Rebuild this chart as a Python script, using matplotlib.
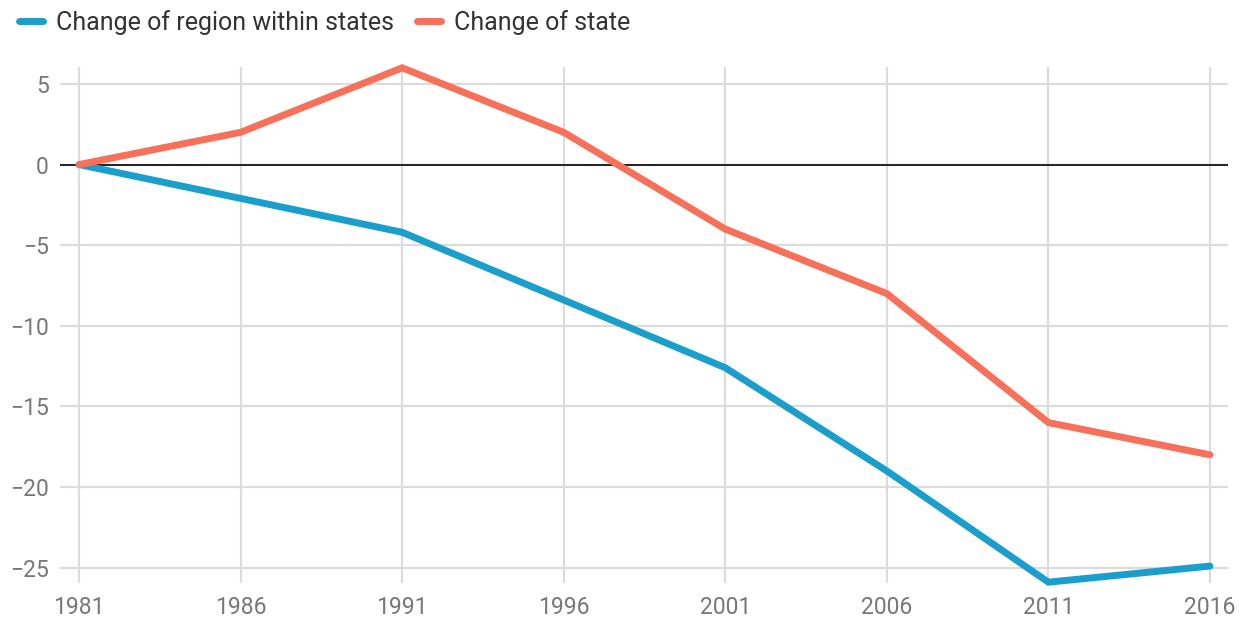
import matplotlib
matplotlib.use("Agg")
import matplotlib.pyplot as plt
from matplotlib.lines import Line2D

years = [1981, 1986, 1991, 1996, 2001, 2006, 2011, 2016]
region_change = [0, -2.1, -4.2, -8.4, -12.6, -19.0, -25.9, -24.9]
state_change = [0, 2, 6, 2, -4, -8, -16, -18]
y_ticks = [5, 0, -5, -10, -15, -20, -25]
series_names = ["Change of region within states", "Change of state"]
colors = ["#1a9fcc", "#f7705a"]

plt.rcParams['font.family'] = ['Roboto', 'DejaVu Sans']

W, H = 1248, 620
fig = plt.figure(figsize=(W / 100, H / 100), dpi=100)
left, right, top, bottom = 60, 1228, 67, 583
ax = fig.add_axes([left / W, 1 - bottom / H, (right - left) / W, (bottom - top) / H])

ax.set_xlim(1981 - 0.59, 2016 + 0.56)
ax.set_ylim(-25.95, 6.05)

for s in ax.spines.values():
    s.set_visible(False)

ax.set_xticks(years)
ax.set_xticklabels([str(y) for y in years])
ax.set_yticks(y_ticks)
ax.set_yticklabels([("−" + str(abs(v))) if v < 0 else str(v) for v in y_ticks])
ax.grid(True, color="#dcdcdc", linewidth=1.6)
ax.set_axisbelow(True)
ax.tick_params(length=0, labelsize=16.5, colors="#777777", pad=8)
ax.tick_params(axis='x', pad=9)

ax.axhline(0, color="#222222", linewidth=1.4, zorder=2)

ax.plot(years, region_change, color=colors[0], linewidth=5, solid_capstyle='round',
        solid_joinstyle='miter', clip_on=False, zorder=3)
ax.plot(years, state_change, color=colors[1], linewidth=5, solid_capstyle='round',
        solid_joinstyle='miter', clip_on=False, zorder=3)

handles = [Line2D([0], [0], color=c, linewidth=5, solid_capstyle='round') for c in colors]
fig.legend(handles, series_names, loc='upper left', bbox_to_anchor=(-0.003, 1.02),
           ncol=2, frameon=False, fontsize=18, handlelength=0.95, handletextpad=0.55,
           columnspacing=0.9, labelcolor="#333333")

fig.savefig("out.png", dpi=100, facecolor="white")
